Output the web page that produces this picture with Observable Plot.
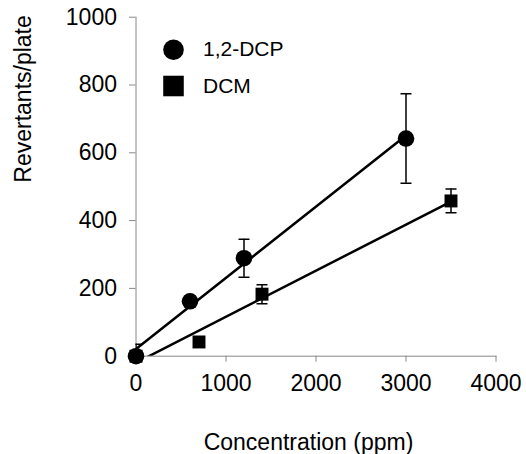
<!DOCTYPE html>
<html>
<head>
<meta charset="utf-8">
<script src="https://cdn.jsdelivr.net/npm/d3@7"></script>
<script src="https://cdn.jsdelivr.net/npm/@observablehq/plot@0.6"></script>
<style>
  html, body { margin: 0; padding: 0; background: #fff; }
</style>
</head>
<body>
<div id="chart"></div>
<script>
// ---- data ----
const seriesNames = ["1,2-DCP", "DCM"];
const dcpConc = [0, 600, 1200, 3000];
const dcpMean = [0, 162, 289, 642];
const dcpErr  = [35, 15, 56, 132];
const dcmConc = [0, 700, 1400, 3500];
const dcmMean = [0, 42, 183, 458];
const dcmErr  = [0, 10, 28, 35];
const xTicks = [0, 1000, 2000, 3000, 4000];
const yTicks = [0, 200, 400, 600, 800, 1000];

const dcp = dcpConc.map((c, i) => ({x: c, y: dcpMean[i], lo: dcpMean[i] - dcpErr[i], hi: dcpMean[i] + dcpErr[i]}));
const dcm = dcmConc.map((c, i) => ({x: c, y: dcmMean[i], lo: dcmMean[i] - dcmErr[i], hi: dcmMean[i] + dcmErr[i]}));

const cap = {draw(ctx, size) { ctx.moveTo(-5.5, 0); ctx.lineTo(5.5, 0); }};
const gray = "#888888";
const font = "'Liberation Sans', Arial, Helvetica, sans-serif";

function errorMarks(data) {
  return [
    Plot.ruleX(data, {x: "x", y1: "lo", y2: "hi", stroke: "black", strokeWidth: 1.5, clip: true}),
    Plot.dot(data, {x: "x", y: "hi", symbol: cap, stroke: "black", strokeWidth: 1.5, fill: "none", clip: true}),
    Plot.dot(data, {x: "x", y: "lo", symbol: cap, stroke: "black", strokeWidth: 1.5, fill: "none", clip: true})
  ];
}

const chart = Plot.plot({
  width: 526,
  height: 454,
  marginLeft: 135.5,
  marginRight: 30.5,
  marginTop: 16.7,
  marginBottom: 98.3,
  style: {fontFamily: font, fontSize: "23px", color: "black", background: "white"},
  x: {domain: [0, 4000]},
  y: {domain: [0, 1000]},
  marks: [
    Plot.axisX({ticks: xTicks, tickFormat: d3.format("d"), tickSize: 6, tickPadding: 12, stroke: gray, label: null, fontSize: 23}),
    Plot.axisY({ticks: yTicks, tickFormat: d3.format("d"), tickSize: 6.5, tickPadding: 12.5, stroke: gray, label: null, fontSize: 23}),
    Plot.frame({anchor: "left", stroke: gray, strokeWidth: 1}),
    Plot.frame({anchor: "bottom", stroke: gray, strokeWidth: 1}),
    Plot.linearRegressionY(dcp, {x: "x", y: "y", ci: 0, stroke: "black", strokeWidth: 2.5, clip: true}),
    Plot.linearRegressionY(dcm, {x: "x", y: "y", ci: 0, stroke: "black", strokeWidth: 2.5, clip: true}),
    ...errorMarks(dcp),
    ...errorMarks(dcm),
    Plot.dot(dcm, {x: "x", y: "y", symbol: "square", r: 7.3, fill: "black", stroke: "none"}),
    Plot.dot(dcp, {x: "x", y: "y", symbol: "circle", r: 8.3, fill: "black", stroke: "none"}),
    // legend
    Plot.dot([seriesNames[0]], {frameAnchor: "top-left", dx: 37.5, dy: 32.5, symbol: "circle", r: 10.3, fill: "black"}),
    Plot.dot([seriesNames[1]], {frameAnchor: "top-left", dx: 37.5, dy: 68.8, symbol: "square", r: 11.6, fill: "black"}),
    Plot.text([seriesNames[0]], {frameAnchor: "top-left", dx: 67, dy: 32.5, text: d => d, textAnchor: "start", lineAnchor: "middle", fontSize: 21, fill: "black"}),
    Plot.text([seriesNames[1]], {frameAnchor: "top-left", dx: 67, dy: 68.8, text: d => d, textAnchor: "start", lineAnchor: "middle", fontSize: 21, fill: "black"}),
    // axis titles
    Plot.text(["Concentration (ppm)"], {frameAnchor: "bottom", dx: -7.5, dy: 86, text: d => d, lineAnchor: "middle", fontSize: 23, fill: "black"}),
    Plot.text(["Revertants/plate"], {frameAnchor: "left", dx: -112.5, dy: -4, rotate: -90, text: d => d, lineAnchor: "middle", fontSize: 23, fill: "black"})
  ]
});
document.getElementById("chart").appendChild(chart);
</script>
</body>
</html>
